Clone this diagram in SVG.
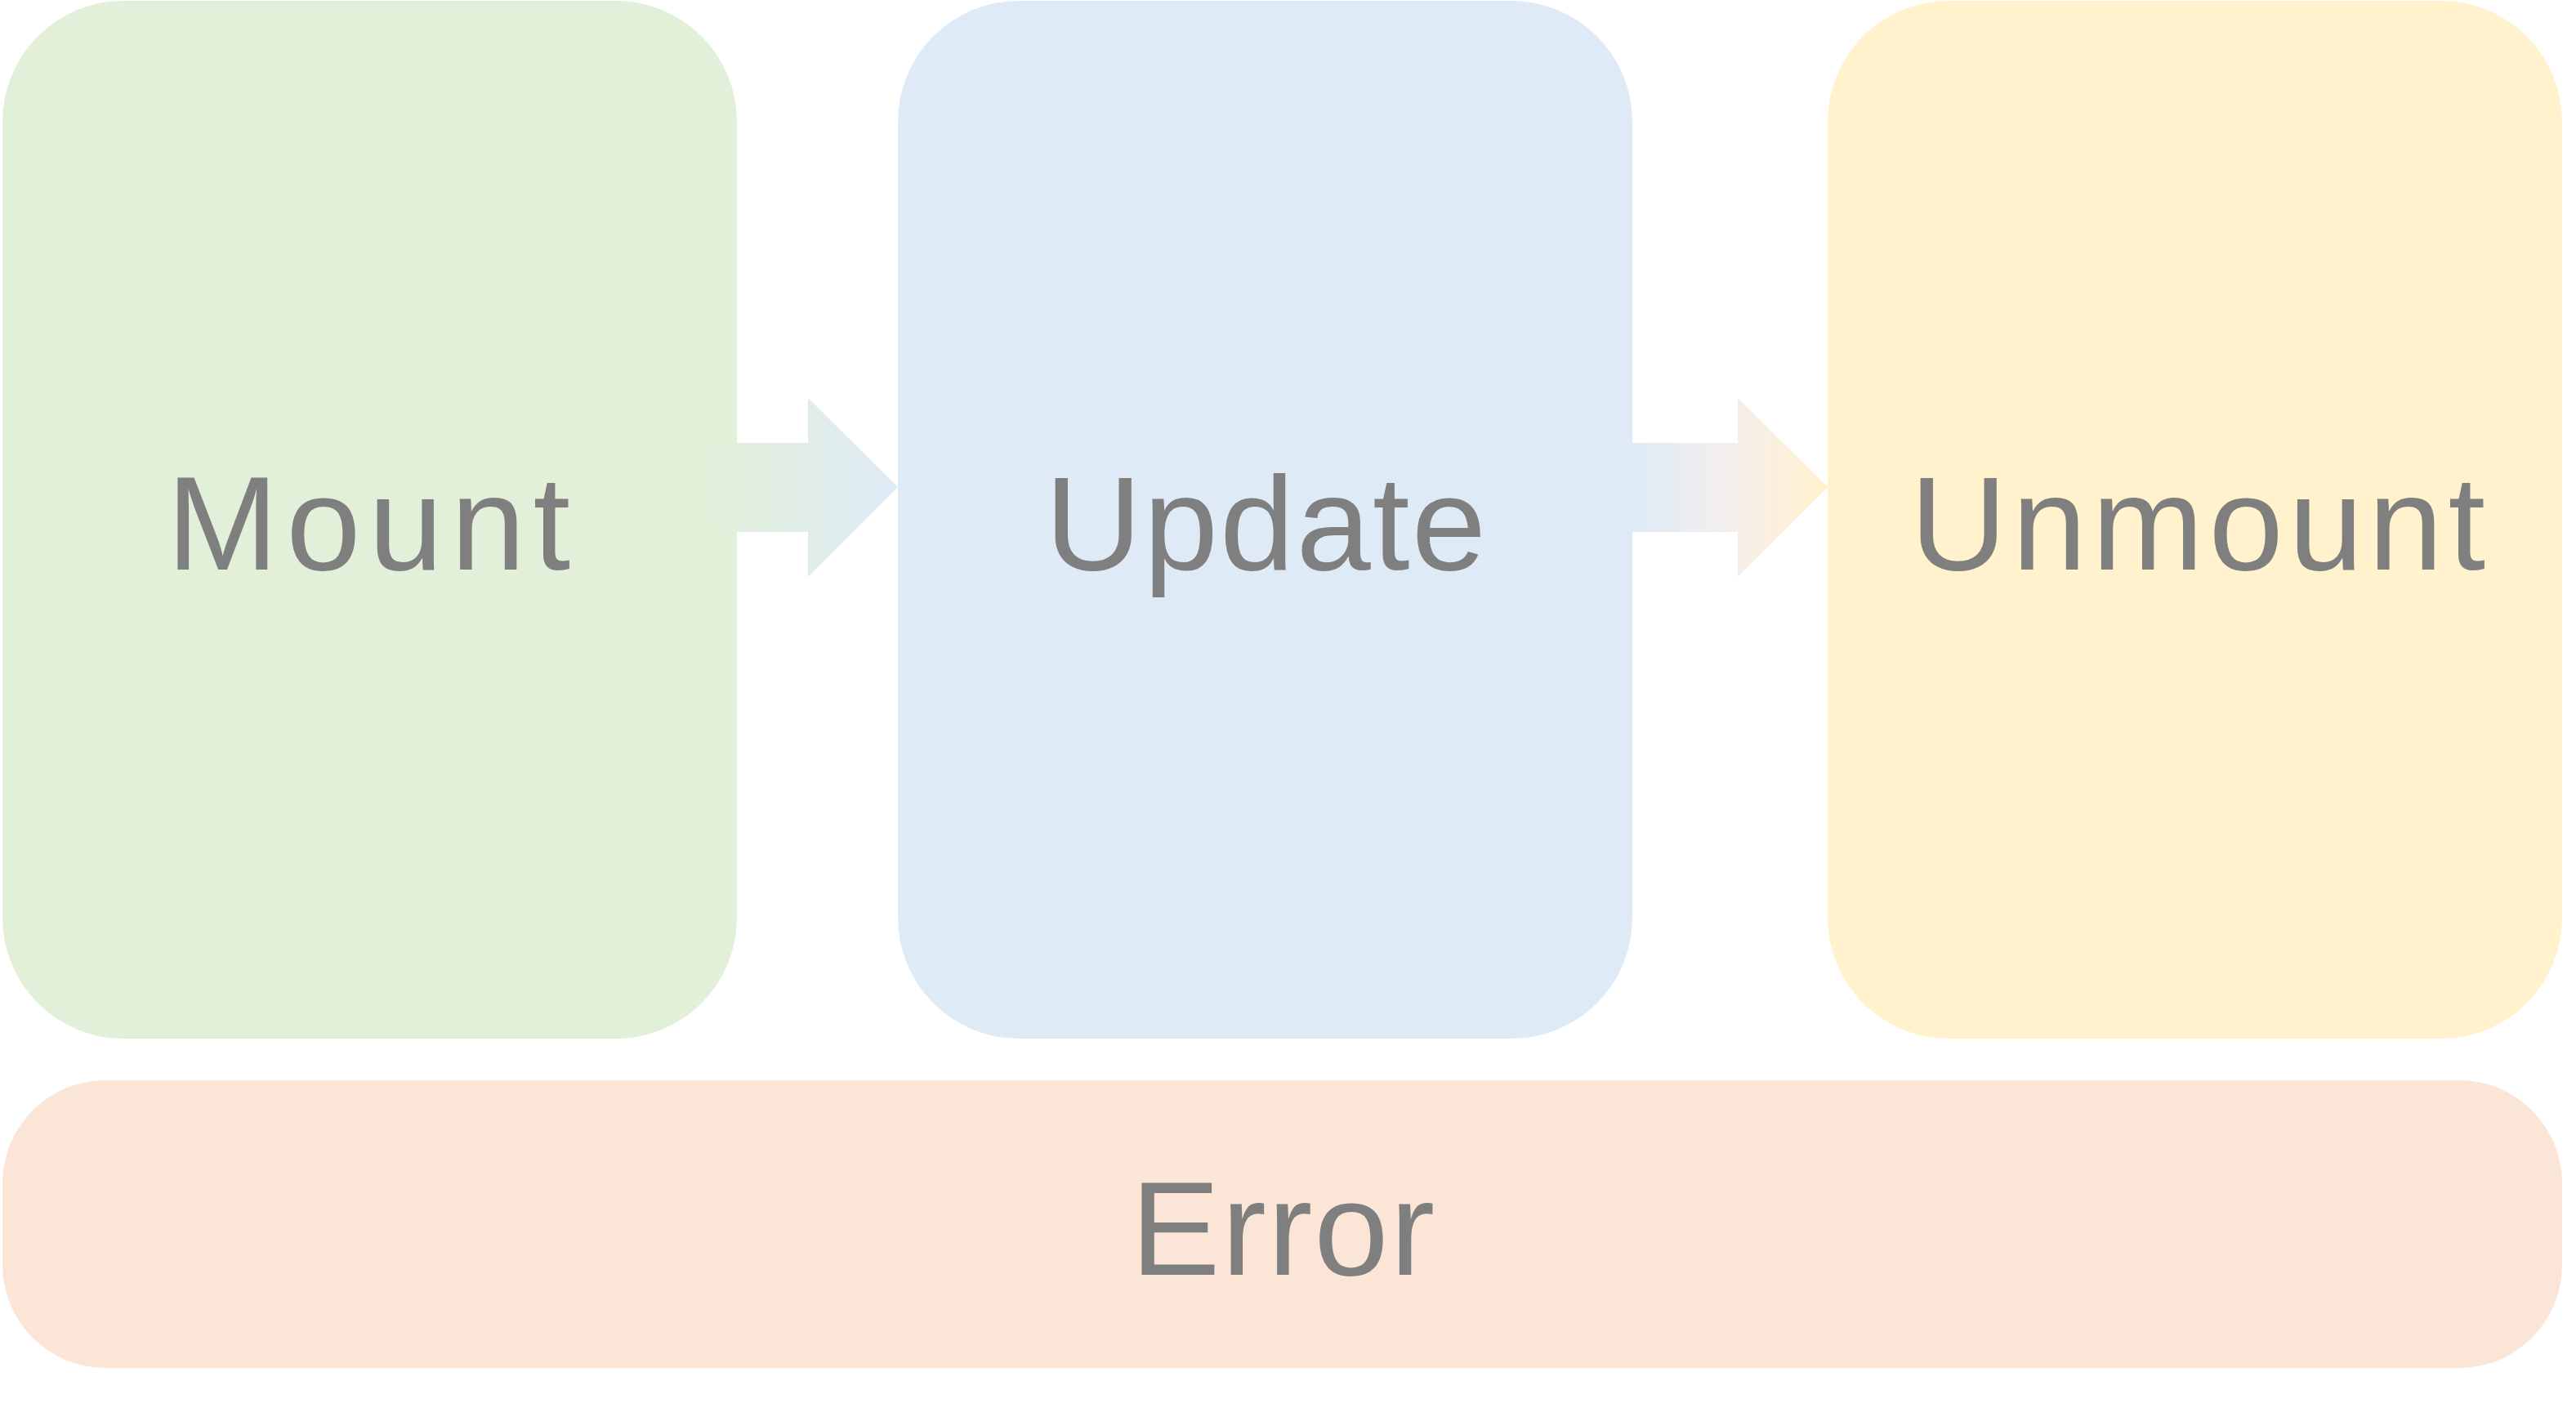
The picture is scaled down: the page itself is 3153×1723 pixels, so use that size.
<svg xmlns="http://www.w3.org/2000/svg" width="3153" height="1723" viewBox="0 0 3153 1723">
  <style>
    .lbl { font-family: "Liberation Sans", Arial, sans-serif; font-size: 164px; fill: #7f7f7f; text-anchor: middle; }
  </style>
  <defs>
    <linearGradient id="g1" gradientUnits="userSpaceOnUse" x1="870" y1="0" x2="1099" y2="0">
      <stop offset="0" stop-color="#e2efd9"/>
      <stop offset="1" stop-color="#deebf7"/>
    </linearGradient>
    <linearGradient id="g2" gradientUnits="userSpaceOnUse" x1="1998" y1="0" x2="2237" y2="0">
      <stop offset="0" stop-color="#deebf7"/>
      <stop offset="0.45" stop-color="#f2eeee"/>
      <stop offset="0.7" stop-color="#faefe0"/>
      <stop offset="1" stop-color="#fff2cc"/>
    </linearGradient>
  </defs>
  <rect width="3153" height="1723" fill="#ffffff"/>
  <g id="mount">
    <rect x="3" y="1" width="899" height="1270" rx="148" ry="148" fill="#e2efd9"/>
    <text class="lbl" x="451" y="697" textLength="494">Mount</text>
  </g>
  <g id="update">
    <rect x="1099" y="1" width="899" height="1270" rx="148" ry="148" fill="#deebf7"/>
    <text class="lbl" x="1549" y="697" textLength="540">Update</text>
  </g>
  <g id="unmount">
    <rect x="2237" y="1" width="899" height="1270" rx="148" ry="148" fill="#fff2cc"/>
    <text class="lbl" x="2690" y="697" textLength="704">Unmount</text>
  </g>
  <g id="error">
    <rect x="3" y="1322" width="3133" height="352" rx="126" ry="126" fill="#fbe5d6"/>
    <text class="lbl" x="1570" y="1560" textLength="372">Error</text>
  </g>
  <g id="connectors">
    <polygon points="870,542 989,542 989,487 1099,596 989,706 989,651 870,651" fill="url(#g1)"/>
    <polygon points="1998,542 2127,542 2127,487 2237,596 2127,706 2127,651 1998,651" fill="url(#g2)"/>
  </g>
</svg>
